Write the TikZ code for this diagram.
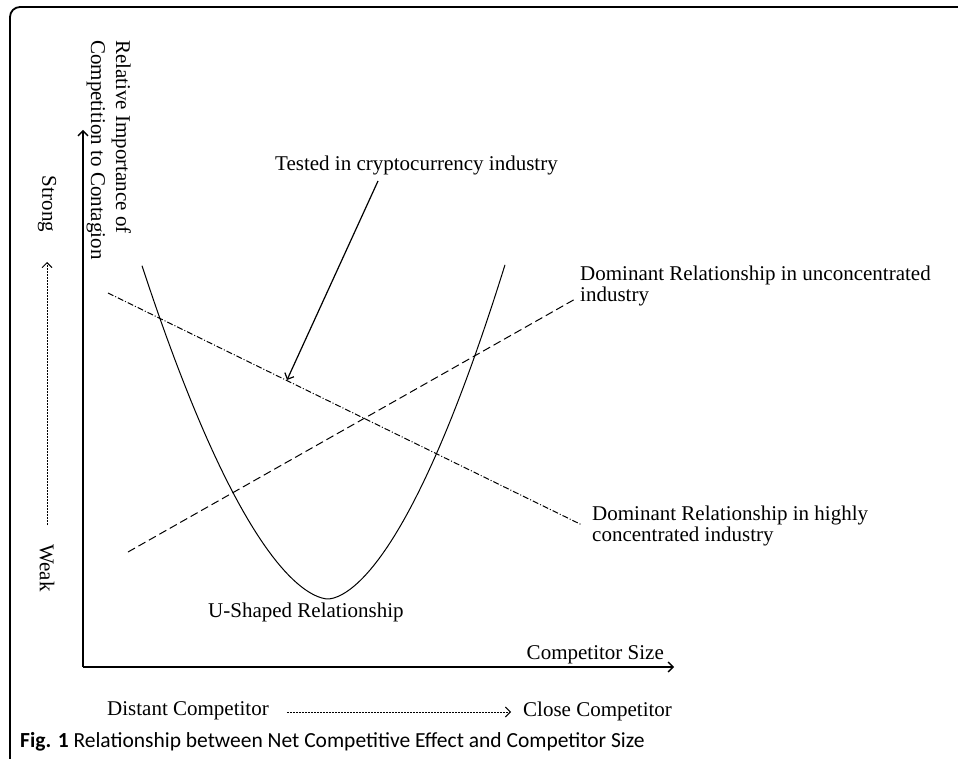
\documentclass[tikz,border=0pt]{standalone}
\usepackage{fontspec}
\setmainfont{Liberation Serif}
\newfontfamily\capfont{Carlito}
\usetikzlibrary{arrows.meta}

\begin{document}
\begin{tikzpicture}[x=1pt,y=-1pt,
  lbl/.style={font=\fontsize{21}{21}\selectfont, inner sep=0pt, align=left},
  barb/.style={-{Straight Barb[length=5pt,width=10pt]}},
  axis/.style={line width=1.3pt, barb}]
\useasboundingbox (0,0) rectangle (958,759);

% frame
\draw[line width=1.8pt, rounded corners=10pt] (10,759) -- (10,7) -- (958,7);

% axes
\coordinate (O) at (83,667);
\coordinate (ytop) at (83,130);
\coordinate (xend) at (674,667);
\draw[axis] (O) -- (ytop);
\draw[axis] (O) -- (xend);

\node[lbl, rotate=-90, anchor=north west, font=\fontsize{21}{25}\selectfont] (ylab) at (131,40) {Relative Importance of\\Competition to Contagion};
\node[lbl, anchor=south east] (xlab) at (664,664) {Competitor Size};

% strong / weak
\node[lbl, rotate=-90] (strong) at (47,204) {Strong};
\node[lbl, rotate=-90] (weak) at (47,568) {Weak};
\coordinate (w1) at (47,525);
\coordinate (s1) at (47,262);
\draw[line width=0.9pt, dash pattern=on 2pt off 1pt, barb] (w1) -- (s1);

% distant / close
\node[lbl, anchor=west] (distant) at (107,711) {Distant Competitor};
\node[lbl, anchor=west] (close) at (523,711) {Close Competitor};
\draw[line width=0.9pt, dash pattern=on 2pt off 1pt, barb] (distant.east) ++(18,1) -- ([xshift=-12pt,yshift=-1pt]close.west);

% U-shaped curve
\draw[line width=1pt] plot[domain=-186:177, samples=90]
  ({328+\x},{599-(\x<0 ? 0.0462 : 0.0504)*pow(abs(\x)+0.01,1.7)});
\node[lbl, anchor=west] (ushape) at (208,612) {U-Shaped Relationship};

% dashed line
\coordinate (d1) at (128,552);
\coordinate (d2) at (577,298);
\draw[line width=1pt, dash pattern=on 8pt off 4pt] (d1) -- (d2);
\node[lbl, anchor=north west] (unconc) at (580,266) {Dominant Relationship in unconcentrated\\industry};

% dash-dot line
\coordinate (c1) at (108,293);
\coordinate (c2) at (582,525);
\draw[line width=1pt, dash pattern=on 6pt off 2pt on 1pt off 2pt] (c1) -- (c2);
\node[lbl, anchor=north west] (highly) at (592,506) {Dominant Relationship in highly\\concentrated industry};

% tested arrow
\node[lbl, anchor=west] (tested) at (275,165) {Tested in cryptocurrency industry};
\coordinate (t1) at (378,181);
\coordinate (t2) at (287,380);
\draw[line width=1.2pt, barb] (t1) -- (t2);

% caption
\node[anchor=west, inner sep=0pt, font=\capfont\fontsize{21.5}{22}\selectfont] (cap) at (20,742) {\textbf{Fig. 1} Relationship between Net Competitive Effect and Competitor Size};
\end{tikzpicture}
\end{document}
